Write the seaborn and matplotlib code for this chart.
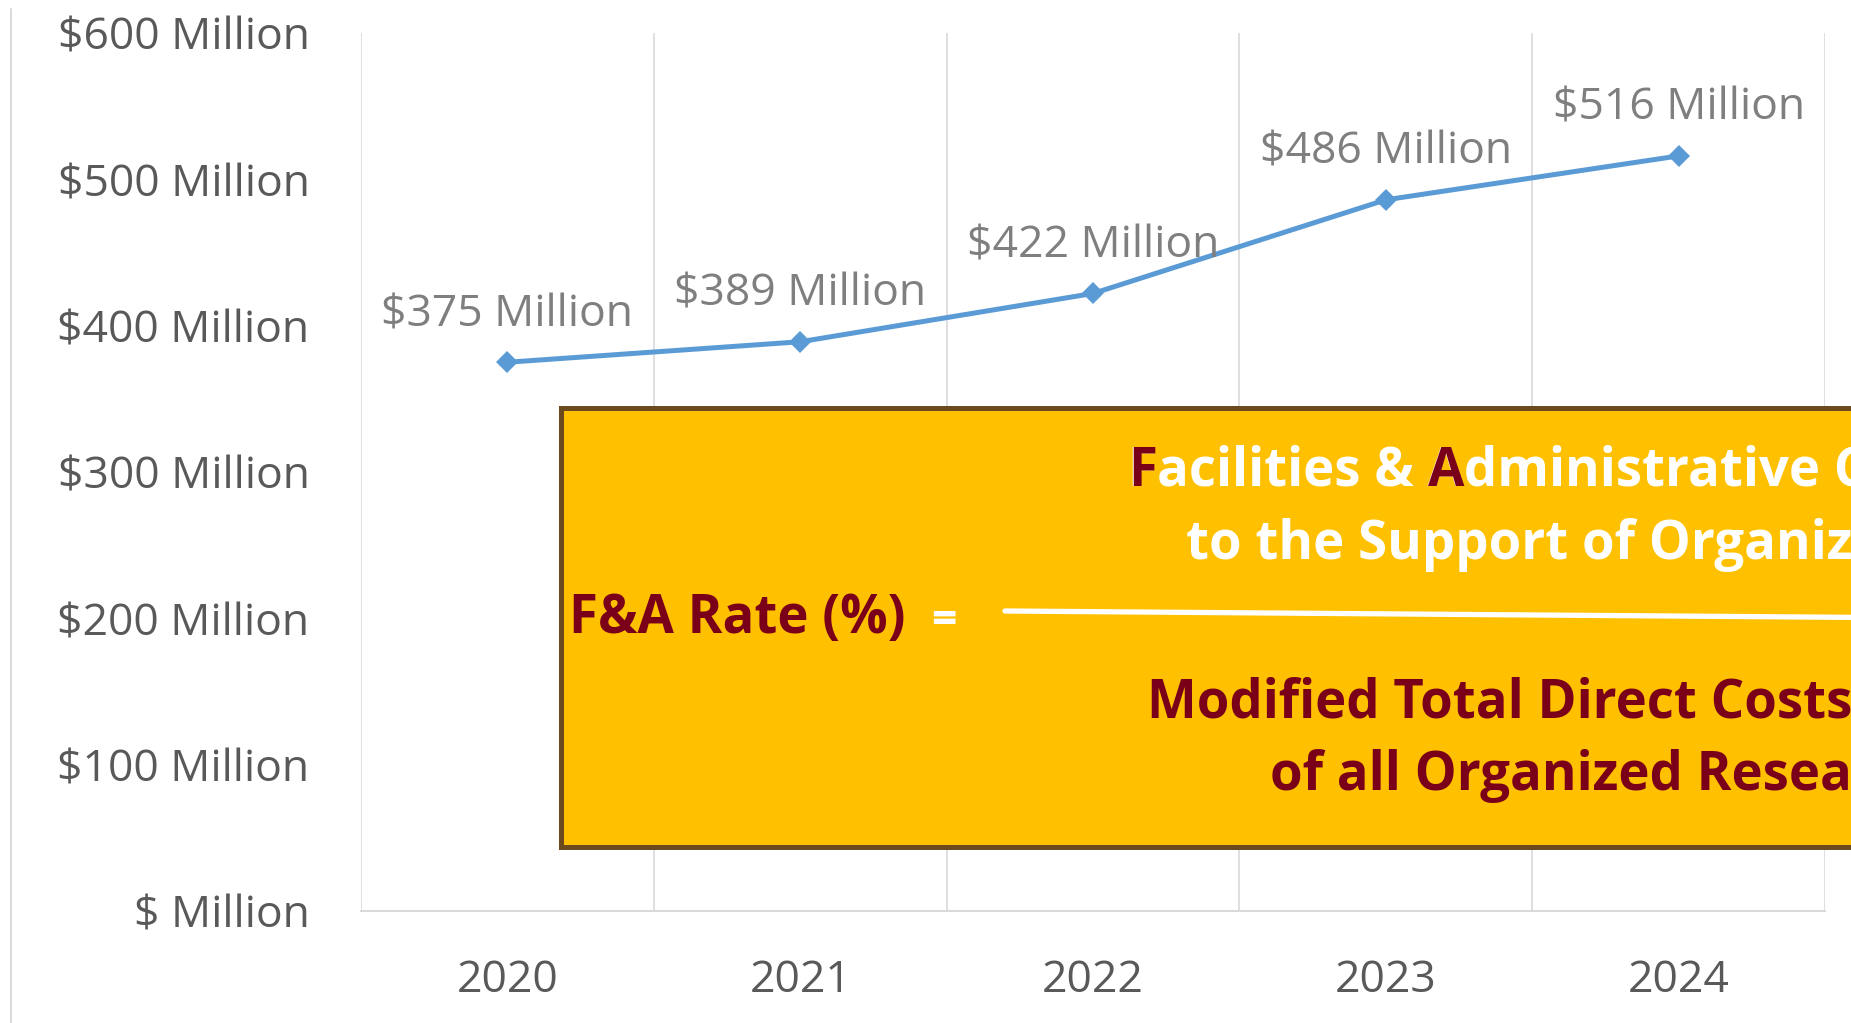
import pandas as pd
import seaborn as sns
import matplotlib.pyplot as plt
from matplotlib.patches import Rectangle
from matplotlib.lines import Line2D

# data ($ Million)
years = [2020, 2021, 2022, 2023, 2024]
funding = [375, 389, 422, 486, 516]
y_ticks = [0, 100, 200, 300, 400, 500, 600]

# formula box text
numerator = ["Facilities & Administrative Costs Allocable", "to the Support of Organized Research"]
denominator = ["Modified Total Direct Costs (MTDC)", "of all Organized Research"]
rate_label = "F&A Rate (%)"

sns.set_style("white")
plt.rcParams["font.family"] = ["Open Sans", "DejaVu Sans"]

W, H = 1851, 1023
MAROON = "#7a0019"
GOLD = "#FFC000"
GRID = "#d9d9d9"

fig = plt.figure(figsize=(W / 100, H / 100), dpi=100)
ax = fig.add_axes([361 / W, 1 - 911 / H, (1825 - 361) / W, (911 - 33) / H])

df = pd.DataFrame({"year": years, "funding": funding})
sns.lineplot(data=df, x="year", y="funding", ax=ax, color="#5B9BD5",
             linewidth=3.6, marker="D", markersize=11, markeredgewidth=0)

# data labels above each point
for yr, val in zip(df["year"], df["funding"]):
    ax.annotate(f"${val} Million", (yr, val), xytext=(0, 26), textcoords="offset points",
                ha="center", va="baseline", fontsize=32, color="#7f7f7f")

ax.set_xlim(years[0] - 0.5, years[-1] + 0.5)
ax.set_ylim(y_ticks[0], y_ticks[-1])
ax.set_yticks(y_ticks)
ax.set_yticklabels([f"${v} Million" if v else "$ Million" for v in y_ticks])
ax.set_xticks(years)
ax.set_xticklabels([str(y) for y in years])
ax.set_xticks([y + 0.5 for y in [years[0] - 1] + years], minor=True)
ax.set_xlabel("")
ax.set_ylabel("")

ax.tick_params(axis="y", length=0, pad=37, labelsize=32, labelcolor="#595959")
ax.tick_params(axis="x", which="both", length=0, pad=34, labelsize=32, labelcolor="#595959")
ax.grid(False)
ax.grid(which="minor", axis="x", color=GRID, linewidth=1.2)

for side in ["top", "left", "right"]:
    ax.spines[side].set_visible(False)
ax.spines["bottom"].set_color(GRID)
ax.spines["bottom"].set_linewidth(1.4)

# thin chart-area border on the left
fig.add_artist(Line2D([11 / W, 11 / W], [0, 1 - 9 / H], color=GRID, linewidth=1.4))

# formula box
fig.add_artist(Rectangle((561 / W, 1 - 847 / H), (W + 40 - 561) / W, (847 - 407.5) / H,
                         transform=fig.transFigure, facecolor=GOLD, edgecolor="#6b4a1f",
                         linewidth=3.6, zorder=2))

box_font = dict(fontsize=38, fontweight="bold", va="baseline", ha="left", zorder=4)

fig.text(569 / W, 1 - 633 / H, rate_label, color=MAROON, **box_font)
fig.text(944 / W, 1 - 633 / H, "=", color="white", fontsize=32, fontweight="bold",
         va="baseline", ha="center", zorder=4)
fig.add_artist(Line2D([1005 / W, 1.01], [1 - 611 / H, 1 - 617.5 / H], color="white",
                      linewidth=3.8, zorder=4))

# numerator with highlighted initials
x0, b0 = 1128 / W, 1 - 486 / H
fig.text(x0, b0, numerator[0], color="white", **box_font)
fig.text(x0, b0, "F", color=MAROON, **box_font)
renderer = fig.canvas.get_renderer()
probe = fig.text(x0, b0, "Facilities & A", alpha=0, **box_font)
w = probe.get_window_extent(renderer).width
probe.remove()
fig.text(x0 + w / W, b0, "A", color=MAROON, fontsize=38, fontweight="bold",
         va="baseline", ha="right", zorder=5)
fig.text(1186 / W, 1 - 559 / H, numerator[1], color="white", **box_font)

fig.text(1147 / W, 1 - 718 / H, denominator[0], color=MAROON, **box_font)
fig.text(1270 / W, 1 - 790 / H, denominator[1], color=MAROON, **box_font)

fig.savefig("out.png", dpi=100)
